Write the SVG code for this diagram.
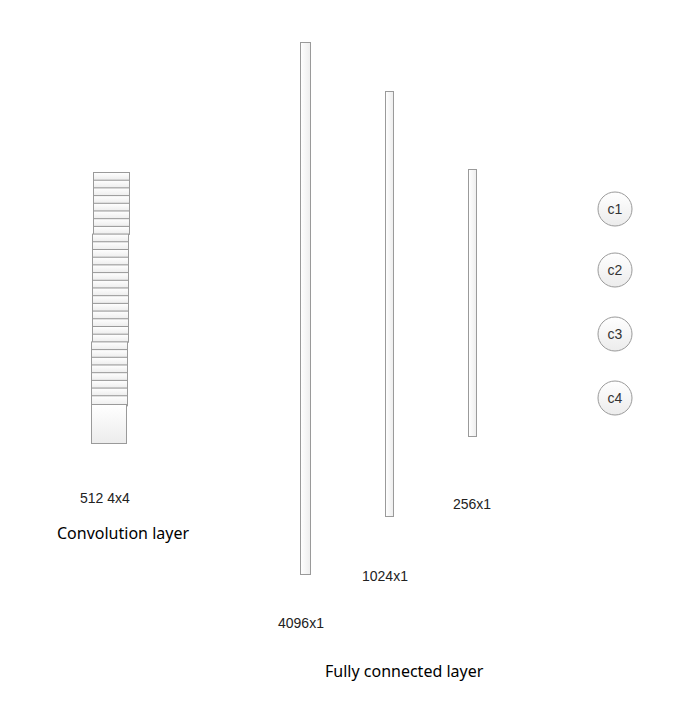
<svg xmlns="http://www.w3.org/2000/svg" width="685" height="706" viewBox="0 0 685 706">
<defs>
<linearGradient id="g" x1="0" y1="0" x2="0" y2="1"><stop offset="0" stop-color="#ffffff"/><stop offset="1" stop-color="#ececec"/></linearGradient>
<linearGradient id="gh" x1="0" y1="0" x2="1" y2="0"><stop offset="0" stop-color="#ffffff"/><stop offset="1" stop-color="#ededed"/></linearGradient>
</defs>
<style>
.r{fill:url(#g);stroke:#9a9a9a;stroke-width:1}
.b{fill:url(#gh);stroke:#9a9a9a;stroke-width:1}
.c{fill:url(#g);stroke:#9a9a9a;stroke-width:1}
.t{font-family:"Liberation Sans",Arial,sans-serif;font-size:14px;fill:#222}
.h{font-family:"Noto Sans","Open Sans",sans-serif;font-size:16px;fill:#000}
.ct{font-family:"Liberation Sans",Arial,sans-serif;font-size:14px;fill:#333;text-anchor:middle}
</style>
<g id="conv">
<rect class="r" x="93.5" y="172.5" width="36" height="8"/>
<rect class="r" x="93.5" y="180.2" width="36" height="8"/>
<rect class="r" x="93.5" y="187.9" width="36" height="8"/>
<rect class="r" x="93.5" y="195.6" width="36" height="8"/>
<rect class="r" x="93.5" y="203.3" width="36" height="8"/>
<rect class="r" x="93.5" y="211" width="36" height="8"/>
<rect class="r" x="93.5" y="218.7" width="36" height="8"/>
<rect class="r" x="93.5" y="226.4" width="36" height="8"/>
<rect class="r" x="92.5" y="234.1" width="36" height="8"/>
<rect class="r" x="92.5" y="241.8" width="36" height="8"/>
<rect class="r" x="92.5" y="249.5" width="36" height="8"/>
<rect class="r" x="92.5" y="257.2" width="36" height="8"/>
<rect class="r" x="92.5" y="264.9" width="36" height="8"/>
<rect class="r" x="92.5" y="272.6" width="36" height="8"/>
<rect class="r" x="92.5" y="280.3" width="36" height="8"/>
<rect class="r" x="92.5" y="288" width="36" height="8"/>
<rect class="r" x="92.5" y="295.7" width="36" height="8"/>
<rect class="r" x="92.5" y="303.4" width="36" height="8"/>
<rect class="r" x="92.5" y="311.1" width="36" height="8"/>
<rect class="r" x="92.5" y="318.8" width="36" height="8"/>
<rect class="r" x="92.5" y="326.5" width="36" height="8"/>
<rect class="r" x="92.5" y="334.2" width="36" height="8"/>
<rect class="r" x="91.5" y="341.9" width="36" height="8"/>
<rect class="r" x="91.5" y="349.6" width="36" height="8"/>
<rect class="r" x="91.5" y="357.3" width="36" height="8"/>
<rect class="r" x="91.5" y="365" width="36" height="8"/>
<rect class="r" x="91.5" y="372.7" width="36" height="8"/>
<rect class="r" x="91.5" y="380.4" width="36" height="8"/>
<rect class="r" x="91.5" y="388.1" width="36" height="8"/>
<rect class="r" x="91.5" y="395.8" width="36" height="10"/>
<rect class="r" x="91.5" y="404.5" width="35" height="39"/>
</g>
<g id="fc4096"><rect class="b" x="300.5" y="42.5" width="10" height="532"/></g>
<g id="fc1024"><rect class="b" x="385.5" y="91.5" width="8" height="425"/></g>
<g id="fc256"><rect class="b" x="468.5" y="169.5" width="8" height="267"/></g>
<g id="c1"><circle class="c" cx="615" cy="209" r="17"/><text class="ct" x="615" y="214">c1</text></g>
<g id="c2"><circle class="c" cx="615" cy="270" r="17"/><text class="ct" x="615" y="275">c2</text></g>
<g id="c3"><circle class="c" cx="615" cy="334" r="17"/><text class="ct" x="615" y="339">c3</text></g>
<g id="c4"><circle class="c" cx="615" cy="398" r="17"/><text class="ct" x="615" y="403">c4</text></g>
<g id="labels">
<text class="t" x="80" y="503">512 4x4</text>
<text class="h" x="57" y="539">Convolution layer</text>
<text class="t" x="453" y="509">256x1</text>
<text class="t" x="362" y="581">1024x1</text>
<text class="t" x="278" y="628">4096x1</text>
<text class="h" x="325" y="677">Fully connected layer</text>
</g>
<g id="connectors"></g>
</svg>
